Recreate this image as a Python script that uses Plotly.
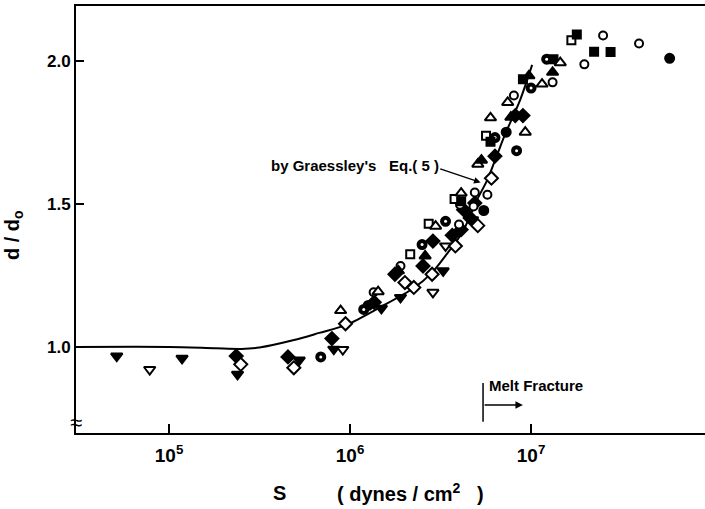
import plotly.graph_objects as go

# Die swell ratio d/d0 versus wall shear stress S (dynes/cm^2)

# Curve computed from Graessley's Eq.(5)
curve_S = [3.06e4, 1.0e5, 1.82e5, 2.51e5, 3.16e5, 4.90e5, 6.76e5, 9.55e5, 1.48e6,
           2.24e6, 2.82e6, 3.47e6, 4.17e6, 5.01e6, 5.75e6, 6.46e6, 7.24e6, 8.71e6, 1.014e7]
curve_d = [1.000, 1.000, 0.995, 0.993, 0.998, 1.024, 1.049, 1.077, 1.140,
           1.205, 1.258, 1.330, 1.400, 1.512, 1.586, 1.668, 1.748, 1.864, 1.986]

# Measured points, one pair of lists per symbol
tri_down_filled_S = [5.14e4, 1.18e5, 2.39e5, 5.24e5, 8.13e5, 1.49e6, 1.90e6, 3.27e6, 4.75e6]
tri_down_filled_d = [0.968, 0.960, 0.904, 0.954, 0.992, 1.135, 1.173, 1.266, 1.445]

tri_down_open_S = [7.82e4, 9.12e5, 2.87e6, 3.37e6]
tri_down_open_d = [0.921, 0.991, 1.191, 1.353]

diamond_filled_S = [2.35e5, 4.54e5, 7.94e5, 1.36e6, 1.77e6, 2.53e6, 2.87e6, 3.67e6,
                    4.11e6, 4.24e6, 4.61e6, 4.89e6, 6.32e6, 8.18e6, 9.02e6]
diamond_filled_d = [0.968, 0.965, 1.029, 1.156, 1.254, 1.283, 1.370, 1.390,
                    1.410, 1.480, 1.451, 1.503, 1.667, 1.809, 1.809]

diamond_open_S = [2.49e5, 4.89e5, 9.44e5, 2.01e6, 2.25e6, 2.84e6, 3.82e6, 5.08e6, 6.04e6]
diamond_open_d = [0.939, 0.927, 1.081, 1.225, 1.208, 1.254, 1.353, 1.424, 1.590]

circle_open_S = [1.35e6, 1.90e6, 4.00e6, 4.05e6, 4.81e6, 4.89e6, 5.74e6, 8.04e6,
                 1.315e7, 1.97e7, 2.50e7, 3.95e7]
circle_open_d = [1.191, 1.283, 1.428, 1.497, 1.491, 1.540, 1.532, 1.879,
                 1.925, 1.988, 2.089, 2.061]

circle_filled_S = [1.26e6, 5.48e6, 7.29e6, 5.83e7]
circle_filled_d = [1.145, 1.477, 1.751, 2.009]

circle_half_S = [6.89e5, 1.19e6, 2.50e6, 3.37e6, 6.32e6, 8.32e6, 1.00e7, 1.22e7]
circle_half_d = [0.965, 1.131, 1.358, 1.439, 1.732, 1.686, 1.905, 2.006]

square_open_S = [2.15e6, 2.72e6, 3.78e6, 5.64e6, 1.67e7]
square_open_d = [1.324, 1.431, 1.517, 1.738, 2.072]

square_filled_S = [4.11e6, 5.97e6, 9.02e6, 1.33e7, 1.79e7, 2.23e7, 2.75e7]
square_filled_d = [1.509, 1.717, 1.936, 2.006, 2.092, 2.032, 2.031]

tri_up_open_S = [8.87e5, 1.43e6, 2.97e6, 4.11e6, 5.08e6, 5.97e6, 7.43e6, 9.29e6, 1.15e7, 1.45e7]
tri_up_open_d = [1.127, 1.193, 1.422, 1.538, 1.639, 1.801, 1.855, 1.751, 1.919, 1.994]

tri_up_filled_S = [1.85e6, 2.60e6, 5.32e6, 7.73e6, 9.73e6, 1.315e7]
tri_up_filled_d = [1.266, 1.318, 1.653, 1.803, 1.948, 1.960]

# Onset of melt fracture
melt_S = 5.43e6

x_tick_vals = [1e5, 1e6, 1e7]
x_tick_text = ["10<sup>5</sup>", "10<sup>6</sup>", "10<sup>7</sup>"]
y_tick_vals = [1.0, 1.5, 2.0]
y_tick_text = ["1.0", "1.5", "2.0"]

FONT = "Liberation Sans"
INK = "black"

fig = go.Figure()

fig.add_trace(go.Scatter(x=curve_S, y=curve_d, mode="lines",
                         line=dict(color=INK, width=2, shape="spline", smoothing=0.8),
                         hoverinfo="skip"))


def add_points(xs, ys, symbol, filled, size=9):
    fig.add_trace(go.Scatter(
        x=xs, y=ys, mode="markers",
        marker=dict(symbol=symbol, size=size,
                    color=INK if filled else "white",
                    line=dict(color=INK, width=2))))


add_points(tri_down_filled_S, tri_down_filled_d, "triangle-down", True, 10)
add_points(tri_down_open_S, tri_down_open_d, "triangle-down", False, 10)
add_points(diamond_filled_S, diamond_filled_d, "diamond", True, 10)
add_points(diamond_open_S, diamond_open_d, "diamond", False, 10)
add_points(circle_open_S, circle_open_d, "circle", False, 8)
add_points(circle_filled_S, circle_filled_d, "circle", True, 9)
add_points(circle_half_S, circle_half_d, "circle", True, 9)
# light centre spot on the half-shaded circles
fig.add_trace(go.Scatter(x=circle_half_S, y=circle_half_d, mode="markers",
                         marker=dict(symbol="circle", size=3, color="white",
                                     line=dict(width=0))))
add_points(square_open_S, square_open_d, "square", False, 8)
add_points(square_filled_S, square_filled_d, "square", True, 8)
add_points(tri_up_open_S, tri_up_open_d, "triangle-up", False, 10)
add_points(tri_up_filled_S, tri_up_filled_d, "triangle-up", True, 10)

# Melt fracture marker line
fig.add_trace(go.Scatter(x=[melt_S, melt_S], y=[0.738, 0.874], mode="lines",
                         line=dict(color=INK, width=1.5), hoverinfo="skip"))

label_font = dict(family=FONT, size=15, color=INK, weight="bold")
title_font = dict(family=FONT, size=20, color=INK, weight="bold")

annotations = [
    dict(x=6.156, y=1.636, xref="x", yref="y", text="by Graessley's",
         xanchor="right", yanchor="middle", showarrow=False, font=label_font),
    dict(x=6.206, y=1.636, xref="x", yref="y", text="Eq.( 5 )",
         xanchor="left", yanchor="middle", showarrow=False, font=label_font),
    dict(x=6.721, y=1.575, xref="x", yref="y", ax=6.490, ay=1.624,
         axref="x", ayref="y", text="", showarrow=True,
         arrowhead=2, arrowsize=1, arrowwidth=1.3, arrowcolor=INK),
    dict(x=6.757, y=0.866, xref="x", yref="y", text="Melt Fracture",
         xanchor="left", yanchor="middle", showarrow=False, font=label_font),
    dict(x=6.955, y=0.797, xref="x", yref="y", ax=6.735, ay=0.797,
         axref="x", ayref="y", text="", showarrow=True,
         arrowhead=2, arrowsize=1, arrowwidth=1.5, arrowcolor=INK),
    # axis break mark
    dict(x=0, y=0.735, xref="paper", yref="y", text="≈",
         xanchor="center", yanchor="middle", showarrow=False,
         font=dict(family=FONT, size=22, color=INK)),
    # x axis title
    dict(x=0.324, y=-0.1405, xref="paper", yref="paper", text="S",
         xanchor="center", yanchor="middle", showarrow=False, font=title_font),
    dict(x=0.411, y=-0.1405, xref="paper", yref="paper",
         text="( dynes / cm<sup>2</sup>&nbsp;&nbsp; )",
         xanchor="left", yanchor="middle", showarrow=False, font=title_font),
    # y axis title
    dict(x=-0.100, y=0.4637, xref="paper", yref="paper",
         text="d / d<sub>o</sub>", textangle=-90,
         xanchor="center", yanchor="middle", showarrow=False, font=title_font),
]

fig.update_layout(
    width=705, height=509,
    margin=dict(l=76, r=0, t=6, b=76),
    paper_bgcolor="white", plot_bgcolor="white",
    showlegend=False,
    font=dict(family=FONT, color=INK),
    annotations=annotations,
    xaxis=dict(type="log", range=[4.486, 7.961],
               tickvals=x_tick_vals, ticktext=x_tick_text,
               ticks="inside", ticklen=9, tickwidth=1.5, tickcolor=INK,
               showline=True, linecolor=INK, linewidth=2, mirror=True,
               showgrid=False, zeroline=False, ticklabelstandoff=4,
               tickfont=dict(family=FONT, size=19, color=INK, weight="bold")),
    yaxis=dict(range=[0.699, 2.192],
               tickvals=y_tick_vals, ticktext=y_tick_text,
               ticks="inside", ticklen=8, tickwidth=1.5, tickcolor=INK,
               showline=True, linecolor=INK, linewidth=2, mirror=False,
               showgrid=False, zeroline=False,
               tickfont=dict(family=FONT, size=17, color=INK, weight="bold")),
)

fig.write_html("out.html")
